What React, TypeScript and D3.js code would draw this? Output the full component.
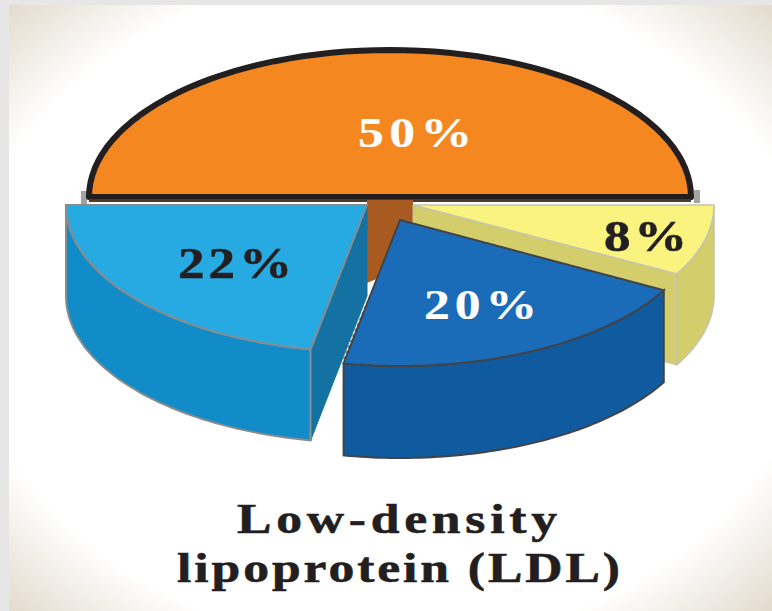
import React from "react";
import * as d3 from "d3";

// Share of each fraction, clockwise from the 9 o'clock end of the top half.
const categories = ["Orange fraction", "Yellow fraction", "Blue fraction", "Sky fraction"];
const shares = [50, 8, 20, 22];
const shareLabels = ["50%", "8%", "20%", "22%"];
const titleLines = ["Low-density", "lipoprotein (LDL)"];

const WIDTH = 772;
const HEIGHT = 611;
const RX = 301;
const GLYPH_STRETCH = 1.2;

type Wedge = {
  cx: number; cy: number; ry: number; depth: number; top: string; wall: string; cut: string; stroke: string; sw: number;
};

// Where each wedge sits after being pulled out of the pie.
const wedges: Wedge[] = [
  { cx: 390, cy: 197, ry: 147, depth: 0, top: "#f48720", wall: "#a85a20", cut: "#a85a20", stroke: "#231f20", sw: 6 },
  { cx: 413, cy: 205, ry: 143, depth: 91, top: "#fbf37f", wall: "#d3cd6b", cut: "#d3cd6b", stroke: "#c4c4b0", sw: 1.5 },
  { cx: 400, cy: 220, ry: 146, depth: 92, top: "#1b6cb8", wall: "#105a9f", cut: "#105a9f", stroke: "#404448", sw: 2 },
  { cx: 367, cy: 205, ry: 147, depth: 91, top: "#27a9e2", wall: "#118cc8", cut: "#1472a2", stroke: "#878c8f", sw: 2 },
];

const labelBoxes = [
  { x: 358, y: 147, w: 114, fill: "#ffffff", size: 43, bold: 0.2 },
  { x: 604, y: 251, w: 83, fill: "#231f20", size: 44, bold: 0.6 },
  { x: 424, y: 319, w: 113, fill: "#ffffff", size: 43, bold: 0.2 },
  { x: 178, y: 278, w: 114, fill: "#231f20", size: 44, bold: 0.6 },
];

const titleBoxes = [
  { x: 237, y: 533, w: 320, size: 43 },
  { x: 177, y: 582, w: 443, size: 43 },
];

const serif = "'Liberation Serif', 'Times New Roman', serif";

const arcs = d3
  .pie<number>()
  .sort(null)
  .startAngle(-Math.PI / 2)
  .endAngle((3 * Math.PI) / 2)(shares);

const line = d3.line();

function rim(w: Wedge, a0: number, a1: number, drop = 0): [number, number][] {
  const n = 64;
  return d3.range(n + 1).map((i) => {
    const a = a0 + ((a1 - a0) * i) / n;
    return [w.cx + RX * Math.sin(a), w.cy - w.ry * Math.cos(a) + drop] as [number, number];
  });
}

function topFace(w: Wedge, a0: number, a1: number) {
  return line([[w.cx, w.cy], ...rim(w, a0, a1)]) + "Z";
}

function wallFace(w: Wedge, a0: number, a1: number) {
  return line([...rim(w, a0, a1), ...rim(w, a0, a1, w.depth).reverse()]) + "Z";
}

// Flat cut face running from the hub to the rim at angle a.
function cutFace(w: Wedge, a: number) {
  const [p] = rim(w, a, a);
  return line([[w.cx, w.cy], p, [p[0], p[1] + w.depth], [w.cx, w.cy + w.depth]]) + "Z";
}

// Serif text widened sideways, with the leftover width spread between letters.
function WideText(props: { t: string; x: number; y: number; w: number; size: number; fill: string; bold: number }) {
  const { t, x, y, w, size, fill, bold } = props;
  return (
    <text
      transform={`translate(${x},${y}) scale(${GLYPH_STRETCH},1)`}
      textLength={w / GLYPH_STRETCH}
      fontFamily={serif}
      fontWeight="bold"
      fontSize={size}
      fill={fill}
      stroke={fill}
      strokeWidth={bold}
    >
      {t}
    </text>
  );
}

export default function App() {
  const [orange, yellow, blue, sky] = arcs;
  const wo = wedges[0];
  const wy = wedges[1];
  const wb = wedges[2];
  const ws = wedges[3];
  const blueEnd = rim(wb, blue.endAngle, blue.endAngle)[0];
  const skyStartWall = rim(ws, sky.startAngle, sky.startAngle)[0];

  // Exposed part of the orange wedge's underside, between the pulled-out slices.
  const brown = line([
    [ws.cx, wo.cy + 3],
    [wy.cx, wo.cy + 3],
    [wy.cx, wb.cy + 4],
    [wb.cx, wb.cy],
    [wb.cx + (blueEnd[0] - wb.cx) * 0.41, wb.cy + (blueEnd[1] - wb.cy) * 0.41],
    [ws.cx, ws.cy + ws.depth - 13],
  ]) + "Z";

  return (
    <svg
      width={WIDTH}
      height={HEIGHT}
      viewBox={`0 0 ${WIDTH} ${HEIGHT}`}
      style={{ position: "absolute", left: 0, top: 0, display: "block" }}
    >
      <defs>
        <radialGradient id="panel" cx="50%" cy="50%" r="71%">
          <stop offset="0.78" stopColor="#ffffff" />
          <stop offset="1" stopColor="#e2dacb" />
        </radialGradient>
      </defs>
      <rect width={WIDTH} height={HEIGHT} fill="#e6e6e6" />
      <rect x={9} y={5} width={WIDTH - 9} height={HEIGHT - 5} fill="url(#panel)" />

      <g aria-label={categories.join(", ")}>
        {/* Orange half with its dark base line and grey end caps */}
        <rect x={wo.cx - RX - 8} y={wo.cy - 6} width={6} height={13} fill="#a3a3a3" />
        <rect x={wo.cx + RX + 3} y={wo.cy - 7} width={6} height={13} fill="#a3a3a3" />
        <path
          d={line(rim(wo, orange.startAngle, orange.endAngle)) + "Z"}
          fill={wo.top}
          stroke={wo.stroke}
          strokeWidth={wo.sw}
          strokeLinejoin="round"
        />
        <rect x={wo.cx - RX} y={wo.cy + 2} width={2 * RX} height={3} fill="#4e3a2d" />
        <path d={brown} fill="#a85a20" />

        {/* Yellow wedge */}
        <path d={cutFace(wy, yellow.endAngle)} fill={wy.cut} stroke={wy.stroke} strokeWidth={1} />
        <path d={wallFace(wy, yellow.startAngle, yellow.endAngle)} fill={wy.wall} stroke={wy.stroke} strokeWidth={wy.sw} />
        <path d={topFace(wy, yellow.startAngle, yellow.endAngle)} fill={wy.top} stroke={wy.stroke} strokeWidth={wy.sw} />

        {/* Sky-blue wedge */}
        <path d={wallFace(ws, sky.startAngle, sky.endAngle)} fill={ws.wall} stroke={ws.stroke} strokeWidth={ws.sw} />
        <path d={cutFace(ws, sky.startAngle)} fill={ws.cut} stroke={ws.cut} strokeWidth={1} />
        <path d={topFace(ws, sky.startAngle, sky.endAngle)} fill={ws.top} stroke={ws.stroke} strokeWidth={ws.sw} />
        <line
          x1={skyStartWall[0]}
          y1={skyStartWall[1]}
          x2={skyStartWall[0]}
          y2={skyStartWall[1] + ws.depth}
          stroke={ws.stroke}
          strokeWidth={2}
        />

        {/* Dark-blue wedge, pulled furthest forward */}
        <line
          x1={wb.cx - 27}
          y1={wb.cy + 70}
          x2={blueEnd[0] - 1}
          y2={blueEnd[1] - 2}
          stroke="#858585"
          strokeWidth={2.5}
          strokeDasharray="3 3"
        />
        <path d={wallFace(wb, blue.startAngle, blue.endAngle)} fill={wb.wall} stroke={wb.stroke} strokeWidth={wb.sw} />
        <path d={topFace(wb, blue.startAngle, blue.endAngle)} fill={wb.top} stroke={wb.stroke} strokeWidth={wb.sw} />
      </g>

      {shareLabels.map((t, i) => (
        <WideText key={t} t={t} {...labelBoxes[i]} />
      ))}

      {titleLines.map((t, i) => (
        <WideText key={t} t={t} {...titleBoxes[i]} fill="#231f20" bold={0.6} />
      ))}
    </svg>
  );
}
